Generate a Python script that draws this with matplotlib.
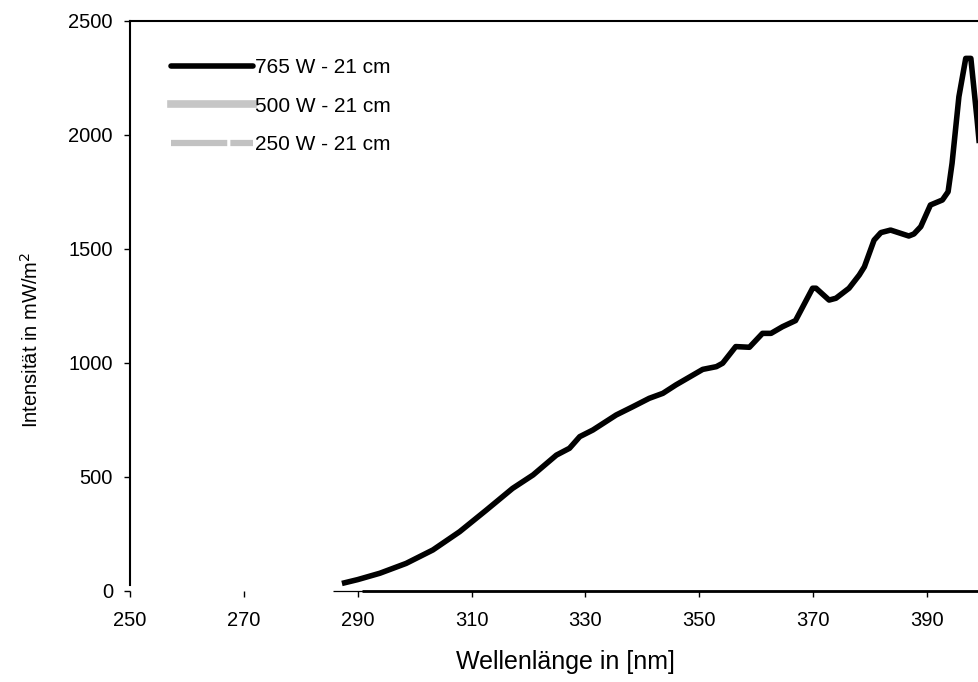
import matplotlib
matplotlib.use("Agg")
import matplotlib.pyplot as plt
from matplotlib.lines import Line2D

plt.rcParams['font.family'] = ['Liberation Sans', 'DejaVu Sans']

# 765 W - 21 cm
wl_765 = [287.7, 290.0, 293.9, 298.5, 303.2, 307.9, 312.6, 317.2, 320.8, 324.9,
          327.2, 329.0, 331.3, 335.4, 338.3, 341.2, 343.6, 345.9, 350.6, 353.0,
          354.1, 356.4, 358.8, 361.1, 362.6, 364.6, 366.9, 369.9, 370.5, 372.8,
          374.0, 376.3, 378.1, 379.0, 380.7, 381.9, 383.6, 386.8, 387.7, 388.9,
          390.6, 392.7, 393.7, 394.4, 395.6, 396.8, 397.7, 398.8, 399.6]
int_765 = [36, 50, 78, 121, 180, 260, 355, 450, 509, 596,
           626, 677, 706, 772, 808, 845, 867, 904, 972, 984,
           999, 1072, 1069, 1130, 1130, 1159, 1186, 1328, 1328, 1276,
           1284, 1328, 1386, 1422, 1539, 1572, 1583, 1557, 1566, 1598,
           1693, 1715, 1751, 1876, 2168, 2336, 2336, 2066, 1850]

# the weaker lamps stay at about zero on this scale
wl_500 = [285.6, 400.0]
int_500 = [0, 0]
wl_250 = [290.7, 400.0]
int_250 = [0, 0]

labels = ['765 W - 21 cm', '500 W - 21 cm', '250 W - 21 cm']
xticks = [250, 270, 290, 310, 330, 350, 370, 390]
yticks = [0, 500, 1000, 1500, 2000, 2500]

fig = plt.figure(figsize=(9.79, 6.82), dpi=100)
# axes run past the right edge of the figure, as in the original
ax = fig.add_axes([130 / 979, 91 / 682, 912 / 979, 570 / 682])

ax.plot(wl_500, int_500, color='black', lw=0.9, solid_capstyle='butt', clip_on=False)
ax.plot(wl_250, int_250, color='black', lw=2.0, solid_capstyle='butt', clip_on=False)
ax.plot(wl_765, int_765, color='black', lw=4.0, solid_joinstyle='round')

ax.set_xlim(250, 250 + 912 / 5.693)
ax.set_ylim(0, 2500)
ax.set_xticks(xticks)
ax.set_yticks(yticks)

for side in ['bottom', 'right']:
    ax.spines[side].set_visible(False)
ax.spines['left'].set_linewidth(1.5)
ax.spines['top'].set_linewidth(1.5)
ax.spines['left'].set_bounds(25, 2500)

ax.tick_params(axis='both', direction='out', length=4.3, width=1, labelsize=14.5, colors='black')
ax.tick_params(axis='x', pad=10)
ax.tick_params(axis='y', pad=8)

ax.set_xlabel('Wellenlänge in [nm]', fontsize=18)
ax.set_ylabel('Intensität in mW/m$^2$', fontsize=14.5)
ax.xaxis.set_label_coords((565 - 130) / 912, -(650 - 591) / 570)
ax.yaxis.set_label_coords((42 - 130) / 912, (591 - 340) / 570)

handles = [
    Line2D([], [], color='black', lw=4.0, solid_capstyle='round'),
    Line2D([], [], color='#c6c6c6', lw=5.5),
    Line2D([], [], color='#c2c2c2', lw=4.5, ls=(0, (9, 0.5))),
]
ax.legend(handles, labels, loc='upper left', bbox_to_anchor=(33 / 912, 1 - 29 / 570),
          frameon=False, fontsize=15, handlelength=3.9, handletextpad=0.1,
          labelspacing=0.93, borderaxespad=0)

fig.savefig('out.png', dpi=100, facecolor='white')
